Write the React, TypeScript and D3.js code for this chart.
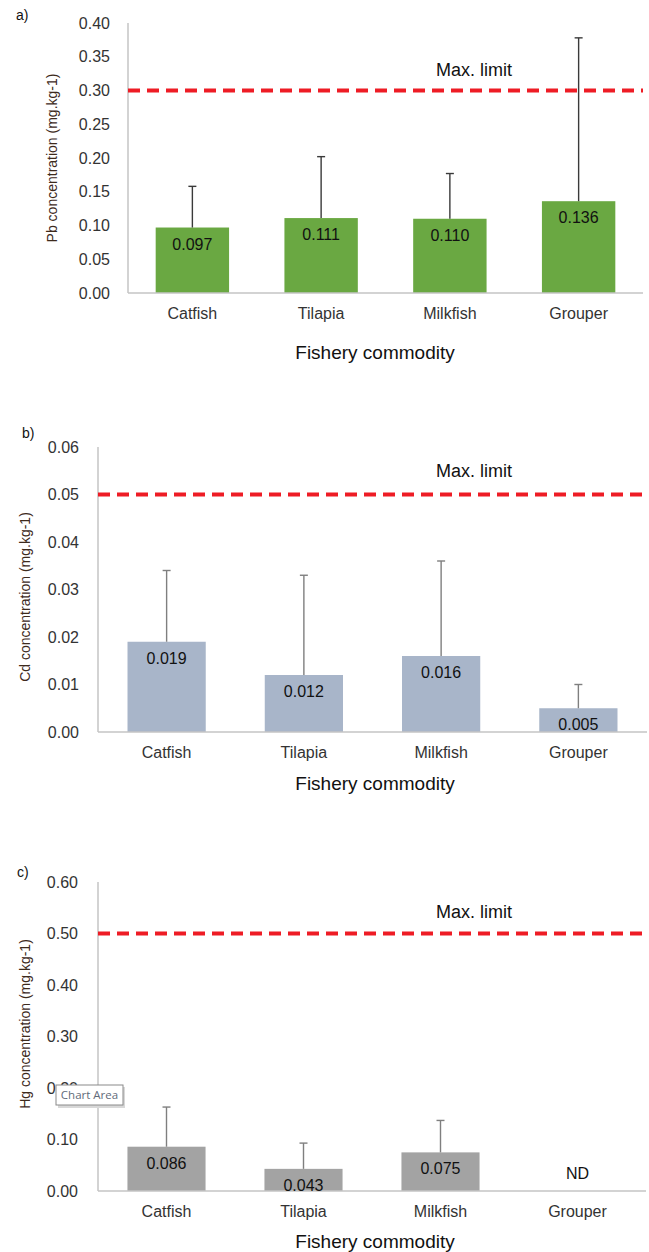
import React from "react";
import * as d3 from "d3";

const categories = ["Catfish", "Tilapia", "Milkfish", "Grouper"];

const pbMeans = [0.097, 0.111, 0.110, 0.136];
const pbSD = [0.061, 0.091, 0.067, 0.242];
const pbTicks = [0, 0.05, 0.1, 0.15, 0.2, 0.25, 0.3, 0.35, 0.4];
const pbLimit = 0.3;

const cdMeans = [0.019, 0.012, 0.016, 0.005];
const cdSD = [0.015, 0.021, 0.020, 0.005];
const cdTicks = [0, 0.01, 0.02, 0.03, 0.04, 0.05, 0.06];
const cdLimit = 0.05;

const hgMeans: (number | null)[] = [0.086, 0.043, 0.075, null];
const hgSD: (number | null)[] = [0.077, 0.05, 0.062, null];
const hgTicks = [0, 0.1, 0.2, 0.3, 0.4, 0.5, 0.6];
const hgLimit = 0.5;

const FONT = "'Liberation Sans', Arial, Helvetica, sans-serif";

type PanelProps = {
  tag: string;
  tagX: number;
  tagY: number;
  means: (number | null)[];
  sds: (number | null)[];
  ticks: number[];
  limit: number;
  yLabel: string;
  left: number;
  right: number;
  top: number;
  bottom: number;
  tickLabelX: number;
  yLabelX: number;
  yLabelY: number;
  catY: number;
  titleY: number;
  limitTextY: number;
  color: string;
  errColor: string;
  labelDigits: number;
};

function Panel(p: PanelProps) {
  const x = d3
    .scaleBand<string>()
    .domain(categories)
    .range([p.left, p.right])
    .paddingInner(0.43)
    .paddingOuter(0.215);
  const y = d3
    .scaleLinear()
    .domain([0, p.ticks[p.ticks.length - 1]])
    .range([p.bottom, p.top]);
  const fmt = d3.format(`.${p.labelDigits}f`);
  const vfmt = d3.format(".3f");
  return (
    <g>
      <text x={p.tagX} y={p.tagY} fontSize={14} fill="#111" fontFamily={FONT}>
        {p.tag}
      </text>
      {p.ticks.map((t) => (
        <text
          key={t}
          x={p.tickLabelX}
          y={y(t)}
          dy="0.35em"
          textAnchor="end"
          fontSize={16}
          fill="#333"
          fontFamily={FONT}
        >
          {fmt(t)}
        </text>
      ))}
      <text
        transform={`translate(${p.yLabelX},${p.yLabelY}) rotate(-90)`}
        textAnchor="middle"
        dy="0.35em"
        fontSize={14}
        fill="#3d2a1c"
        fontFamily={FONT}
      >
        {p.yLabel}
      </text>
      {categories.map((c, i) => {
        const m = p.means[i];
        if (m == null) return null;
        return (
          <rect
            key={c}
            x={x(c)!}
            y={y(m)}
            width={x.bandwidth()}
            height={p.bottom - y(m)}
            fill={p.color}
          />
        );
      })}
      {categories.map((c, i) => {
        const m = p.means[i];
        const s = p.sds[i];
        if (m == null || s == null) return null;
        const cx = x(c)! + x.bandwidth() / 2;
        return (
          <g key={c} stroke={p.errColor} strokeWidth={1.4}>
            <line x1={cx} x2={cx} y1={y(m)} y2={y(m + s)} />
            <line x1={cx - 4} x2={cx + 4} y1={y(m + s)} y2={y(m + s)} />
          </g>
        );
      })}
      <line x1={p.left} x2={p.left} y1={p.top} y2={p.bottom} stroke="#c4c4c4" strokeWidth={1.5} />
      <line x1={p.left} x2={p.right} y1={p.bottom} y2={p.bottom} stroke="#c4c4c4" strokeWidth={1.5} />
      {categories.map((c, i) => {
        const m = p.means[i];
        const cx = x(c)! + x.bandwidth() / 2;
        if (m == null) {
          return (
            <text key={c} x={cx} y={p.bottom - 12} textAnchor="middle" fontSize={16} fill="#111" fontFamily={FONT}>
              ND
            </text>
          );
        }
        return (
          <text key={c} x={cx} y={y(m) + 22} textAnchor="middle" fontSize={16} fill="#111" fontFamily={FONT}>
            {vfmt(m)}
          </text>
        );
      })}
      <line
        x1={p.left}
        x2={p.right}
        y1={y(p.limit)}
        y2={y(p.limit)}
        stroke="#ee1c25"
        strokeWidth={4}
        strokeDasharray="12,7"
      />
      <text x={474} y={p.limitTextY} textAnchor="middle" fontSize={18} fill="#111" fontFamily={FONT}>
        Max. limit
      </text>
      {categories.map((c) => (
        <text
          key={c}
          x={x(c)! + x.bandwidth() / 2}
          y={p.catY}
          textAnchor="middle"
          fontSize={16}
          fill="#333"
          fontFamily={FONT}
        >
          {c}
        </text>
      ))}
      <text x={375} y={p.titleY} textAnchor="middle" fontSize={19} fill="#111" fontFamily={FONT}>
        Fishery commodity
      </text>
    </g>
  );
}

export default function App() {
  return (
    <svg
      width={649}
      height={1252}
      style={{ position: "absolute", left: 0, top: 0, background: "#fff" }}
    >
      <rect width={649} height={1252} fill="#fff" />
      <Panel
        tag="a)"
        tagX={16}
        tagY={20}
        means={pbMeans}
        sds={pbSD}
        ticks={pbTicks}
        limit={pbLimit}
        yLabel="Pb concentration (mg.kg-1)"
        left={128}
        right={643}
        top={23}
        bottom={293}
        tickLabelX={110}
        yLabelX={52}
        yLabelY={158}
        catY={319}
        titleY={359}
        limitTextY={76}
        color="#6aa842"
        errColor="#3a3a3a"
        labelDigits={2}
      />
      <Panel
        tag="b)"
        tagX={22}
        tagY={438}
        means={cdMeans}
        sds={cdSD}
        ticks={cdTicks}
        limit={cdLimit}
        yLabel="Cd concentration (mg.kg-1)"
        left={98}
        right={647}
        top={447}
        bottom={732}
        tickLabelX={79}
        yLabelX={25}
        yLabelY={597}
        catY={758}
        titleY={790}
        limitTextY={477}
        color="#a8b5c9"
        errColor="#7f7f7f"
        labelDigits={2}
      />
      <Panel
        tag="c)"
        tagX={17}
        tagY={877}
        means={hgMeans}
        sds={hgSD}
        ticks={hgTicks}
        limit={hgLimit}
        yLabel="Hg concentration (mg.kg-1)"
        left={98}
        right={646}
        top={882}
        bottom={1191}
        tickLabelX={78}
        yLabelX={25}
        yLabelY={1024}
        catY={1217}
        titleY={1248}
        limitTextY={918}
        color="#a3a3a3"
        errColor="#7f7f7f"
        labelDigits={2}
      />
      <g>
        <rect x={58} y={1087} width={67} height={21} fill="#d8d8d8" />
        <rect x={56} y={1085} width={67} height={20} fill="#fff" stroke="#8a8a8a" strokeWidth={1} />
        <text x={89.5} y={1095} dy="0.35em" textAnchor="middle" fontSize={11.5} fill="#5f6b7a" fontFamily="'Open Sans', 'DejaVu Sans', sans-serif">
          Chart Area
        </text>
      </g>
    </svg>
  );
}
